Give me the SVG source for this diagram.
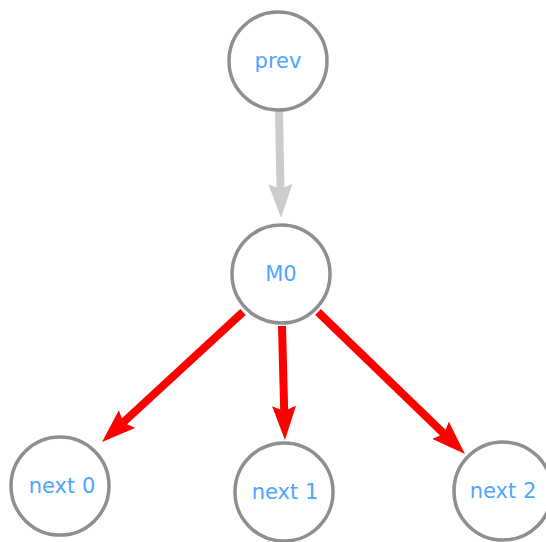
<svg xmlns="http://www.w3.org/2000/svg" width="546" height="542" viewBox="0 0 546 542">
  <style>
    .node circle { fill: #ffffff; stroke: #8f8f8f; stroke-width: 3.5; }
    .node text { font-family: "DejaVu Sans", Verdana, sans-serif; font-size: 21px; fill: #4da6ff; text-anchor: middle; dominant-baseline: central; }
    .edge { fill: none; stroke-width: 8; }
    .edge.prev { stroke: #cccccc; }
    .edge.next { stroke: #ff0000; }
  </style>
  <defs>
    <marker id="head-gray" markerUnits="userSpaceOnUse" markerWidth="34" markerHeight="24" refX="5" refY="12" orient="auto" viewBox="0 0 34 24">
      <path d="M0,0 L34,12 L0,24 L5,12 Z" fill="#cccccc"/>
    </marker>
    <marker id="head-red" markerUnits="userSpaceOnUse" markerWidth="34" markerHeight="24" refX="5" refY="12" orient="auto" viewBox="0 0 34 24">
      <path d="M0,0 L34,12 L0,24 L5,12 Z" fill="#ff0000"/>
    </marker>
  </defs>

  <g id="connectors">
    <line class="edge prev" x1="279" y1="110" x2="280.5" y2="189" marker-end="url(#head-gray)"/>
    <line class="edge next" x1="243" y1="312" x2="123.3" y2="422.4" marker-end="url(#head-red)"/>
    <line class="edge next" x1="282" y1="326" x2="284.2" y2="411" marker-end="url(#head-red)"/>
    <line class="edge next" x1="318" y1="312" x2="444.1" y2="433.8" marker-end="url(#head-red)"/>
  </g>

  <g id="node-prev" class="node">
    <circle cx="278" cy="61" r="49"/>
    <text x="278" y="61">prev</text>
  </g>
  <g id="node-m0" class="node">
    <circle cx="281" cy="274" r="49"/>
    <text x="281" y="274">M0</text>
  </g>
  <g id="node-next0" class="node">
    <circle cx="60" cy="486" r="49"/>
    <text x="62" y="486">next 0</text>
  </g>
  <g id="node-next1" class="node">
    <circle cx="284" cy="492" r="49"/>
    <text x="285" y="492">next 1</text>
  </g>
  <g id="node-next2" class="node">
    <circle cx="503" cy="491" r="49"/>
    <text x="503" y="491">next 2</text>
  </g>
</svg>
